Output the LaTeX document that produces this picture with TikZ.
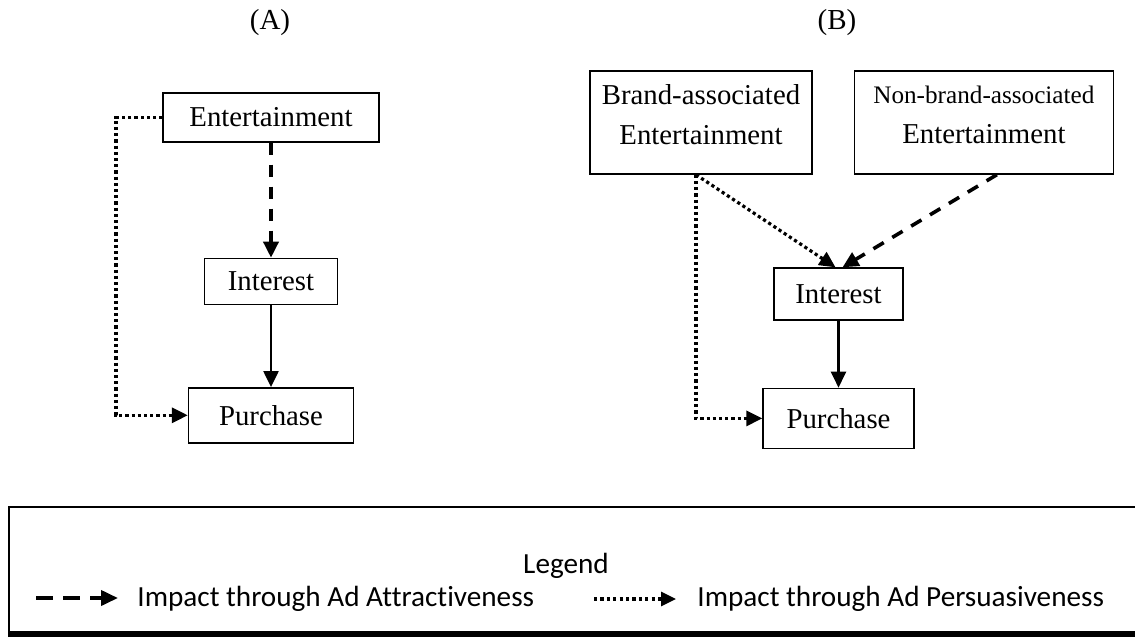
\documentclass[tikz,border=0pt]{standalone}
\usepackage{fontspec}
\setmainfont{Liberation Serif}
\newfontfamily\legendfont[Ligatures=CommonOff]{Carlito}
\usetikzlibrary{arrows.meta, positioning}

\begin{document}
\begin{tikzpicture}[x=0.5pt, y=-0.5pt, >={Triangle[length=8pt,width=7.5pt]},
	box/.style={draw, line width=0.7pt, inner sep=0pt, font=\fontsize{14.4}{20}\selectfont},
	capt/.style={inner sep=0pt, font=\fontsize{14.5}{17}\selectfont},
	attract/.style={->, line width=1.8pt, dash pattern=on 6pt off 5pt},
	persuade/.style={->, line width=1.6pt, dash pattern=on 1.6pt off 1.5pt},
	direct/.style={->, line width=1.1pt},
	legattract/.style={-{Triangle[length=8.5pt,width=7.5pt]}, line width=1.9pt, dash pattern=on 8.5pt off 5pt},
	legpersuade/.style={-{Triangle[length=7.5pt,width=7pt]}, line width=1.6pt, dash pattern=on 1.6pt off 1.6pt},
	legtext/.style={inner sep=0pt, font=\legendfont\fontsize{14.6}{17}\selectfont}]
	\useasboundingbox (0,0) rectangle (1135,637);
	
	% (A)
	\node[capt] (labA) at (270,23) {(A)};
	\node[box, minimum width=108pt, minimum height=24.5pt] (entA) at (271,117.5) {Entertainment};
	\node[box, minimum width=66.5pt, minimum height=23pt] (intA) [below = 57.5pt of entA] {Interest};
	\node[box, minimum width=82.5pt, minimum height=27.5pt] (purA) [below = 41pt of intA] {Purchase};
	\coordinate (cA) at (116,117.5);
	
	% (B)
	\node[capt] (labB) at (837,23) {(B)};
	\node[box, align=center, text depth=8pt, minimum width=111pt, minimum height=51.5pt] (brand) at (701,122.5) {Brand-associated\\Entertainment};
	\node[box, align=center, text depth=8pt, minimum width=129.5pt, minimum height=51.5pt] (nonbrand) [right = 20.5pt of brand] {{\fontsize{12.6}{20}\selectfont Non-brand-associated}\\Entertainment};
	\node[box, minimum width=64.5pt, minimum height=26pt] (intB) at (838.5,294) {Interest};
	\node[box, minimum width=75.5pt, minimum height=30pt] (purB) [below = 33.5pt of intB] {Purchase};
	
	% legend
	\node[draw, line width=0.9pt, inner sep=0pt, minimum width=570pt, minimum height=62.5pt] (legbox) at (579,569.5) {};
	\node[legtext] (legtitle) at (566,566) {Legend};
	\coordinate (la1) at (36,598);
	\coordinate (la2) at (118,598);
	\node[legtext, anchor=west] (lt1) at (137,599) {Impact through Ad Attractiveness};
	\coordinate (lp1) at (594,599);
	\coordinate (lp2) at (676,599);
	\node[legtext, anchor=west] (lt2) at (697,599) {Impact through Ad Persuasiveness};
	
	\draw[attract] (entA) -- (intA);
	\draw[direct] (intA) -- (purA);
	\draw[persuade] (entA.west) -- (cA) |- (purA.west);
	
	\draw[persuade] ([xshift=-2.5pt]brand.south) |- (purB.west);
	\draw[persuade] ([xshift=-2.5pt]brand.south) -- ([xshift=-1.5pt]intB.north);
	\draw[attract] ([xshift=6.5pt]nonbrand.south) -- ([xshift=2pt]intB.north);
	\draw[direct] (intB) -- (purB);
	
	\draw[line width=2.5pt] (legbox.south west) ++(0,-1.5pt) -- ++(580pt,0);
	\draw[legattract] (la1) -- (la2);
	\draw[legpersuade] (lp1) -- (lp2);
\end{tikzpicture}
\end{document}
